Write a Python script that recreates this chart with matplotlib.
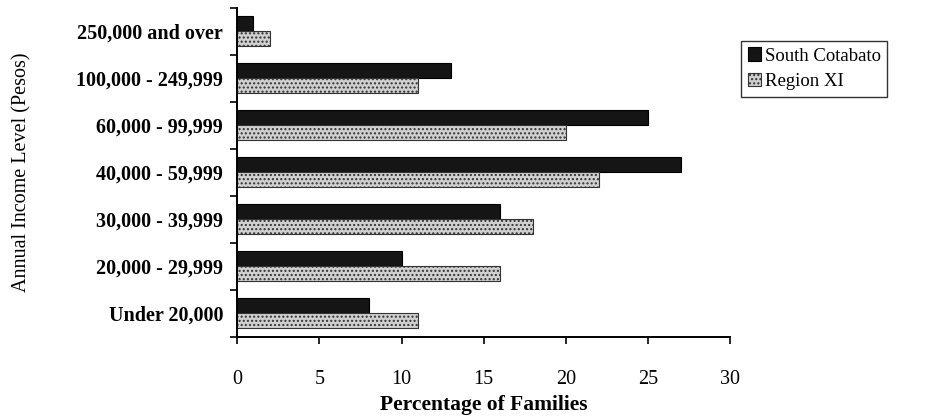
import matplotlib.pyplot as plt
import numpy as np

plt.rcParams['font.family'] = ['Liberation Serif', 'DejaVu Serif']

categories = ['Under 20,000', '20,000 - 29,999', '30,000 - 39,999', '40,000 - 59,999',
              '60,000 - 99,999', '100,000 - 249,999', '250,000 and over']
south_cotabato = [8, 10, 16, 27, 25, 13, 1]
region_xi = [11, 16, 18, 22, 20, 11, 2]

fig = plt.figure(figsize=(9.31, 4.18), dpi=100)
ax = fig.add_axes([0.2546, 0.194, 0.53, 0.787])

y = np.arange(len(categories))
h = 0.32
ax.barh(y + h / 2, south_cotabato, height=h, color='#151515', edgecolor='#000000',
        linewidth=0.8, label='South Cotabato')
ax.barh(y - h / 2, region_xi, height=h, color='#d0d0d0', edgecolor='#333333',
        hatch='....', linewidth=0.8, label='Region XI')

ax.set_xlim(0, 30)
ax.set_ylim(-0.5, len(categories) - 0.5)
ax.set_xticks(range(0, 31, 5))
ax.set_yticks(y)
ax.set_yticklabels(categories, fontsize=14.5, fontweight='bold')
ax.set_yticks(np.arange(-0.5, len(categories), 1), minor=True)
ax.tick_params(axis='y', which='major', length=0, pad=10)
ax.tick_params(axis='y', which='minor', length=5, width=1.2, direction='out')
ax.tick_params(axis='x', length=5, width=1.2, labelsize=14.5, pad=19)

for s in ['top', 'right']:
    ax.spines[s].set_visible(False)
for s in ['left', 'bottom']:
    ax.spines[s].set_linewidth(1.4)

ax.set_xlabel('Percentage of Families', fontsize=15.5, fontweight='bold', labelpad=4)
ax.set_ylabel('Annual Income Level (Pesos)', fontsize=14.5, labelpad=32)

ax.legend(loc='upper left', bbox_to_anchor=(1.022, 0.9), frameon=True, fancybox=False,
          edgecolor='#000000', fontsize=13.5, handlelength=0.7, handleheight=0.7,
          handletextpad=0.2, borderpad=0.35, labelspacing=0.45, borderaxespad=0)

fig.savefig('out.png', dpi=100)
